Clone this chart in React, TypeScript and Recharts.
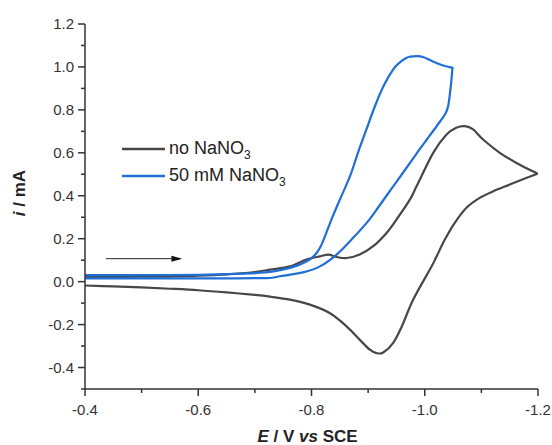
import React from "react";
import { LineChart, Line, XAxis, YAxis, Legend, ReferenceLine } from "recharts";

// ---- Data (E in V vs SCE, i in mA), in scan order ----
const noNitrateE = [
  -0.4, -0.45, -0.5, -0.55, -0.6, -0.65, -0.7, -0.7266, -0.762, -0.791, -0.815, -0.83, -0.844, -0.862,
  -0.885, -0.909, -0.9325, -0.95, -0.9737, -0.9855, -1.0149, -1.0385, -1.056, -1.0707, -1.0854, -1.103,
  -1.1325, -1.162, -1.199, -1.179, -1.15, -1.121, -1.097, -1.0737, -1.053, -1.0355, -1.021, -1.0115,
  -0.9795, -0.9596, -0.944, -0.9266, -0.915, -0.903, -0.885, -0.862, -0.832, -0.797, -0.762, -0.7266,
  -0.7, -0.65, -0.6, -0.55, -0.5, -0.45, -0.4,
];
const noNitrateI = [
  0.022, 0.022, 0.023, 0.025, 0.028, 0.034, 0.045, 0.056, 0.071, 0.103, 0.118, 0.126, 0.115, 0.11,
  0.126, 0.165, 0.227, 0.289, 0.382, 0.444, 0.6, 0.685, 0.717, 0.724, 0.709, 0.662,
  0.6, 0.553, 0.503, 0.483, 0.452, 0.421, 0.39, 0.344, 0.274, 0.196, 0.118, 0.068,
  -0.084, -0.208, -0.286, -0.33, -0.333, -0.317, -0.27, -0.208, -0.146, -0.107, -0.084, -0.07,
  -0.062, -0.05, -0.04, -0.033, -0.027, -0.022, -0.018,
];

const nitrateE = [
  -0.4, -0.45, -0.5, -0.55, -0.6, -0.65, -0.7, -0.733, -0.762, -0.778, -0.791, -0.8, -0.808, -0.815,
  -0.8215, -0.8352, -0.8501, -0.868, -0.882, -0.897, -0.912, -0.927, -0.944, -0.956, -0.968, -0.975,
  -0.987, -0.998, -1.009, -1.021, -1.0325, -1.049, -1.0457, -1.0413, -1.0355, -1.0213, -1.0037, -0.9843,
  -0.9631, -0.9402, -0.919, -0.9022, -0.8736, -0.8443, -0.815, -0.785, -0.744, -0.7266, -0.7, -0.65,
  -0.6, -0.55, -0.5, -0.45, -0.4,
];
const nitrateI = [
  0.03, 0.03, 0.03, 0.031, 0.032, 0.035, 0.04, 0.048, 0.064, 0.078, 0.094, 0.11, 0.13, 0.158,
  0.196, 0.289, 0.382, 0.491, 0.6, 0.709, 0.817, 0.91, 0.988, 1.021, 1.043, 1.048,
  1.05, 1.045, 1.032, 1.018, 1.007, 0.996, 0.904, 0.817, 0.7785, 0.725, 0.662, 0.592,
  0.513, 0.429, 0.35, 0.289, 0.204, 0.126, 0.071, 0.043, 0.025, 0.017, 0.016, 0.015,
  0.015, 0.015, 0.015, 0.015, 0.015,
];

const xMajorTicks = [-0.4, -0.6, -0.8, -1.0, -1.2];
const xMinorTicks = [-0.5, -0.7, -0.9, -1.1];
const yMajorTicks = [-0.4, -0.2, 0.0, 0.2, 0.4, 0.6, 0.8, 1.0, 1.2];
const yMinorTicks = [-0.5, -0.3, -0.1, 0.1, 0.3, 0.5, 0.7, 0.9, 1.1];

const seriesNames = ["no NaNO", "50 mM NaNO"];
const seriesColors = ["#474747", "#1f6fd6"];

const arrowFrom = { x: -0.437, y: 0.107 };
const arrowTo = { x: -0.572, y: 0.107 };

const noNitrateData = noNitrateE.map((e, k) => ({ x: e, y: noNitrateI[k] }));
const nitrateData = nitrateE.map((e, k) => ({ x: e, y: nitrateI[k] }));

const axisColor = "#333";
const font = "Arial, 'Liberation Sans', Helvetica, sans-serif";

// Parametric Catmull-Rom curve with sharp corners at scan reversals
function catmullRom(context: any) {
  let pts: [number, number][] = [];
  const drawPiece = (p: [number, number][]) => {
    const n = p.length;
    for (let k = 0; k < n - 1; k++) {
      const p0 = p[k > 0 ? k - 1 : k];
      const p1 = p[k];
      const p2 = p[k + 1];
      const p3 = p[k + 2 < n ? k + 2 : k + 1];
      context.bezierCurveTo(
        p1[0] + (p2[0] - p0[0]) / 6,
        p1[1] + (p2[1] - p0[1]) / 6,
        p2[0] - (p3[0] - p1[0]) / 6,
        p2[1] - (p3[1] - p1[1]) / 6,
        p2[0],
        p2[1]
      );
    }
  };
  return {
    areaStart() {},
    areaEnd() {},
    lineStart() {
      pts = [];
    },
    point(x: number, y: number) {
      pts.push([+x, +y]);
    },
    lineEnd() {
      const n = pts.length;
      if (!n) return;
      context.moveTo(pts[0][0], pts[0][1]);
      let piece: [number, number][] = [pts[0]];
      for (let k = 1; k < n; k++) {
        piece.push(pts[k]);
        if (k < n - 1) {
          const ax = pts[k][0] - pts[k - 1][0];
          const ay = pts[k][1] - pts[k - 1][1];
          const bx = pts[k + 1][0] - pts[k][0];
          const by = pts[k + 1][1] - pts[k][1];
          const cos = (ax * bx + ay * by) / (Math.hypot(ax, ay) * Math.hypot(bx, by) || 1);
          if (cos < 0.3) {
            drawPiece(piece);
            piece = [pts[k]];
          }
        }
      }
      drawPiece(piece);
    },
  };
}

const isMajor = (v: number, majors: number[]) => majors.some((m) => Math.abs(m - v) < 1e-6);

const XTick = (props: any) => {
  const { x, y, payload } = props;
  const major = isMajor(payload.value, xMajorTicks);
  return (
    <g>
      <line x1={x} x2={x} y1={y} y2={y + (major ? 7 : 4)} stroke={axisColor} strokeWidth={1.5} />
      {major && (
        <text x={x} y={y + 26} textAnchor="middle" fontSize={15} fontFamily={font} fill="#333">
          {payload.value.toFixed(1)}
        </text>
      )}
    </g>
  );
};

const YTick = (props: any) => {
  const { x, y, payload } = props;
  const major = isMajor(payload.value, yMajorTicks);
  return (
    <g>
      <line x1={x} x2={x - (major ? 7 : 4)} y1={y} y2={y} stroke={axisColor} strokeWidth={1.5} />
      {major && (
        <text x={x - 11} y={y + 5} textAnchor="end" fontSize={15} fontFamily={font} fill="#333">
          {payload.value.toFixed(1)}
        </text>
      )}
    </g>
  );
};

const XTitle = (props: any) => {
  const vb = props.viewBox;
  return (
    <text x={vb.x + vb.width / 2 - 4} y={442} textAnchor="middle" fontSize={17} fontWeight="bold" fontFamily={font} fill="#222">
      <tspan fontStyle="italic">E</tspan>
      <tspan> / V </tspan>
      <tspan fontStyle="italic">vs</tspan>
      <tspan> SCE</tspan>
    </text>
  );
};

const YTitle = () => {
  return (
    <text x={25} y={193} transform="rotate(-90 25 193)" textAnchor="middle" fontSize={17} fontWeight="bold" fontFamily={font} fill="#222">
      <tspan fontStyle="italic">i</tspan>
      <tspan> / mA</tspan>
    </text>
  );
};

const ArrowShape = (props: any) => {
  const { x1, y1, x2, y2 } = props;
  const head = 11;
  const dir = x2 > x1 ? 1 : -1;
  return (
    <g>
      <line x1={x1} y1={y1} x2={x2 - dir * head} y2={y2} stroke="#222" strokeWidth={1} />
      <polygon points={`${x2},${y2} ${x2 - dir * head},${y2 - 3} ${x2 - dir * head},${y2 + 3}`} fill="#111" />
    </g>
  );
};

const LegendContent = () => (
  <div style={{ fontFamily: font, fontSize: 18, color: "#222" }}>
    {seriesNames.map((n, k) => (
      <div key={n} style={{ display: "flex", alignItems: "center", height: 26.7 }}>
        <svg width={43} height={6} style={{ marginRight: 4 }}>
          <line x1={0} x2={43} y1={3} y2={3} stroke={seriesColors[k]} strokeWidth={2.5} />
        </svg>
        <span>
          {n}
          <span style={{ fontSize: 12, position: "relative", top: 5 }}>3</span>
        </span>
      </div>
    ))}
  </div>
);

export default function App() {
  return (
    <div style={{ position: "absolute", left: 0, top: 0, width: 552, height: 445, background: "#fff" }}>
      <LineChart width={552} height={445} margin={{ top: 24, right: 14, bottom: 26, left: 20 }}>
        <XAxis
          type="number"
          dataKey="x"
          domain={[-1.2, -0.4]}
          reversed
          allowDataOverflow
          ticks={[...xMajorTicks, ...xMinorTicks].sort((a, b) => a - b)}
          interval={0}
          height={30}
          tickSize={0}
          tickMargin={0}
          tickLine={false}
          tick={<XTick />}
          axisLine={{ stroke: axisColor, strokeWidth: 1.5 }}
          label={{ content: (p: any) => <XTitle {...p} /> }}
        />
        <YAxis
          type="number"
          dataKey="y"
          domain={[-0.5, 1.2]}
          allowDataOverflow
          ticks={[...yMajorTicks, ...yMinorTicks].sort((a, b) => a - b)}
          interval={0}
          width={65}
          tickSize={0}
          tickMargin={0}
          tickLine={false}
          tick={<YTick />}
          axisLine={{ stroke: axisColor, strokeWidth: 1.5 }}
          label={{ content: () => <YTitle /> }}
        />
        <Legend
          layout="horizontal"
          align="center"
          verticalAlign="middle"
          content={<LegendContent />}
          wrapperStyle={{ position: "absolute", left: 122, top: 135.5, width: "auto" }}
        />
        <ReferenceLine segment={[arrowFrom, arrowTo]} shape={<ArrowShape />} ifOverflow="visible" />
        <Line
          data={noNitrateData}
          dataKey="y"
          name="no NaNO3"
          type={catmullRom as any}
          stroke={seriesColors[0]}
          strokeWidth={2.2}
          dot={false}
          isAnimationActive={false}
        />
        <Line
          data={nitrateData}
          dataKey="y"
          name="50 mM NaNO3"
          type={catmullRom as any}
          stroke={seriesColors[1]}
          strokeWidth={2.2}
          dot={false}
          isAnimationActive={false}
        />
      </LineChart>
    </div>
  );
}
